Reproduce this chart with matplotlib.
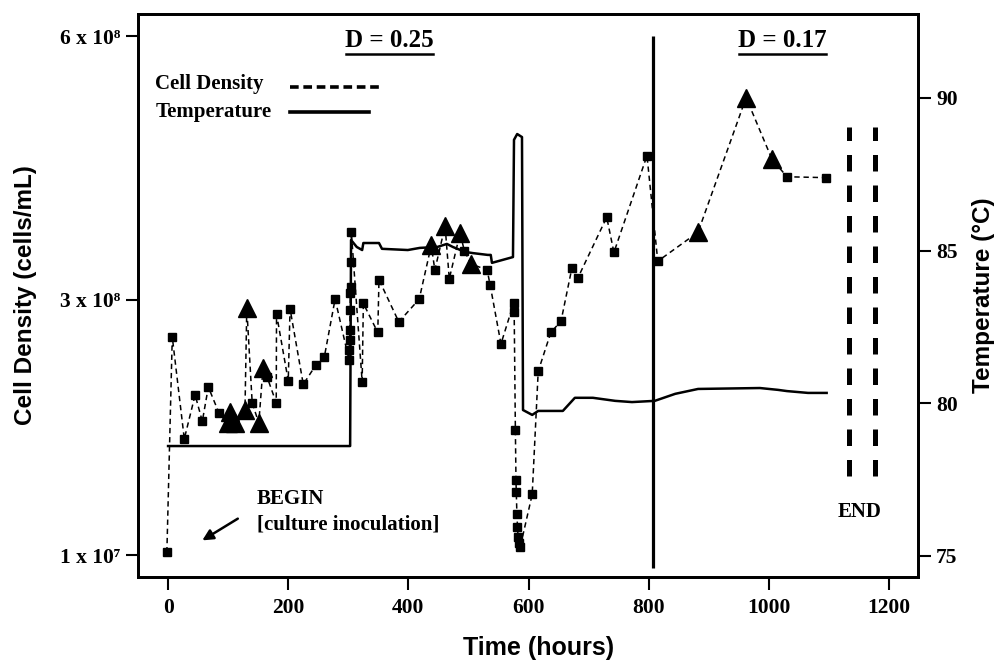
import matplotlib
matplotlib.use("Agg")
import matplotlib.pyplot as plt
from matplotlib.lines import Line2D

SERIF = ["Liberation Serif", "DejaVu Serif"]
SANS = ["Liberation Sans", "DejaVu Sans"]

# cell density, square samples (time in hours, density in 1e8 cells/mL)
sq_t = [-2, 7, 27, 45, 57, 67, 85, 140, 165, 180, 180.5, 200, 203, 225, 246, 260, 278,
        301, 301.5, 302, 302.5, 303, 303.5, 304, 304.5, 305, 323, 325, 349, 351, 384,
        418, 444, 468, 493, 531, 536, 554, 575, 576, 578, 579, 579.5, 580.5, 581.5,
        582.5, 584, 586, 606, 616, 637, 654, 672, 682, 730, 742, 797, 815, 1030, 1095]
sq_d = [0.13, 2.58, 1.42, 1.92, 1.62, 2.01, 1.71, 1.83, 2.12, 1.83, 2.84, 2.08, 2.90, 2.04,
        2.26, 2.35, 3.01, 2.32, 2.43, 2.54, 2.66, 2.89, 3.08, 3.15, 3.43, 3.77, 2.07, 2.96,
        2.63, 3.23, 2.75, 3.01, 3.34, 3.24, 3.56, 3.34, 3.17, 2.50, 2.96, 2.86, 1.52, 0.95,
        0.82, 0.57, 0.42, 0.30, 0.24, 0.19, 0.79, 2.19, 2.63, 2.76, 3.36, 3.25, 3.94, 3.54,
        4.64, 3.44, 4.40, 4.39]

# cell density, triangle samples
tri_t = [100, 103, 111, 128, 131, 151, 158, 438, 461, 486, 504, 882, 962, 1005]
tri_d = [1.60, 1.73, 1.60, 1.75, 2.91, 1.60, 2.23, 3.62, 3.84, 3.76, 3.41, 3.77, 5.30, 4.60]

# reactor temperature (deg C)
temp_t = [0, 303, 304.5, 314, 323, 325, 351, 356, 399, 419, 448, 464, 474, 494, 507, 532,
          537, 539, 574, 575.7, 581, 589, 590.7, 606, 616, 657, 677, 707, 744, 772, 810,
          844, 882, 985, 1015, 1030, 1065, 1096]
temp_c = [78.60, 78.60, 85.35, 85.12, 85.02, 85.25, 85.25, 85.06, 85.02, 85.09, 85.12,
          85.22, 85.12, 84.96, 84.92, 84.86, 84.86, 84.60, 84.79, 88.63, 88.82, 88.72,
          79.78, 79.62, 79.75, 79.75, 80.18, 80.18, 80.08, 80.04, 80.08, 80.31, 80.47,
          80.50, 80.44, 80.40, 80.34, 80.34]

switch_t = 807          # dilution rate change
switch_span = (-0.05, 6.0)
end_t = [1133, 1176]
end_span = (1.0, 4.97)

dens_ticks = [0.1, 3, 6]
dens_labels = ["1 x 10\u2077", "3 x 10\u2078", "6 x 10\u2078"]
temp_ticks = [75, 80, 85, 90]
x_ticks = [0, 200, 400, 600, 800, 1000, 1200]

fig = plt.figure(figsize=(10.06, 6.68), dpi=100)
ax = fig.add_axes([0.1372, 0.1362, 0.7753, 0.8428])
ax2 = ax.twinx()

# dashed line through every density sample in time order
pts = sorted(zip(sq_t + tri_t, sq_d + tri_d))
ax.plot([p[0] for p in pts], [p[1] for p in pts], color="k", lw=1.1,
        dashes=(3.5, 2.5), zorder=2)
ax.plot(sq_t, sq_d, ls="none", marker="s", ms=6, color="k", zorder=3)
ax.plot(tri_t, tri_d, ls="none", marker="^", ms=13, color="k", zorder=3)

ax.vlines(switch_t, *switch_span, color="k", lw=2.3)
ax.vlines(end_t, *end_span, color="k", lw=3.6, linestyles=(0, (3.3, 2.8)))

ax2.plot(temp_t, temp_c, color="k", lw=1.8)

ax.set_xlim(-50, 1248)
ax.set_ylim(-0.15, 6.25)
ax2.set_ylim(74.31, 92.75)

ax.set_xticks(x_ticks)
ax.set_yticks(dens_ticks)
ax.set_yticklabels(dens_labels)
ax2.set_yticks(temp_ticks)

for a in (ax, ax2):
    for s in a.spines.values():
        s.set_linewidth(2)
    a.tick_params(width=1.5, length=9, pad=4)
    for lab in a.get_xticklabels() + a.get_yticklabels():
        lab.set_family(SERIF)
        lab.set_weight("bold")
        lab.set_fontsize(15.5)
ax.tick_params(axis="x", pad=6)

ax.set_xlabel("Time (hours)", family=SANS, weight="bold", fontsize=18)
ax.xaxis.set_label_coords(0.514, -0.105)
ax.set_ylabel("Cell Density (cells/mL)", family=SANS, weight="bold", fontsize=17.5,
              labelpad=16)
ax2.set_ylabel("Temperature (\u00b0C)", family=SANS, weight="bold", fontsize=17.5,
               labelpad=10)

txt_kw = dict(family=SERIF, weight="bold", fontsize=15, color="k")
ax.text(148, 0.74, "BEGIN", ha="left", va="center", **txt_kw)
ax.text(148, 0.45, "[culture inoculation]", ha="left", va="center", **txt_kw)
ax.annotate("", xy=(53, 0.25), xytext=(120, 0.53),
            arrowprops=dict(arrowstyle="-|>", lw=1.8, color="k", mutation_scale=16))
ax.text(1151, 0.59, "END", ha="center", va="center", **txt_kw)

d1 = ax.text(368, 5.95, "D = 0.25", ha="center", va="center", family=SERIF,
             weight="bold", fontsize=18)
d2 = ax.text(1023, 5.95, "D = 0.17", ha="center", va="center", family=SERIF,
             weight="bold", fontsize=18)

# legend key, drawn by hand so the labels stay left aligned
ax.text(0.022, 0.876, "Cell Density", transform=ax.transAxes, ha="left", va="center",
        **txt_kw)
ax.text(0.022, 0.826, "Temperature", transform=ax.transAxes, ha="left", va="center",
        **txt_kw)
ax.add_line(Line2D([0.195, 0.314], [0.870, 0.870], transform=ax.transAxes, color="k",
                   lw=2.6, dashes=(2.4, 1.3)))
ax.add_line(Line2D([0.195, 0.296], [0.826, 0.826], transform=ax.transAxes, color="k",
                   lw=2.6))

# underline the dilution rate labels
fig.canvas.draw()
inv = fig.transFigure.inverted()
for t in (d1, d2):
    bb = t.get_window_extent(fig.canvas.get_renderer())
    (x0, y0), (x1, _) = inv.transform([(bb.x0 + 1, bb.y0 - 2), (bb.x1 - 1, bb.y0)])
    fig.add_artist(Line2D([x0, x1], [y0, y0], color="k", lw=1.8,
                          transform=fig.transFigure))

fig.savefig("out.png", dpi=100)
